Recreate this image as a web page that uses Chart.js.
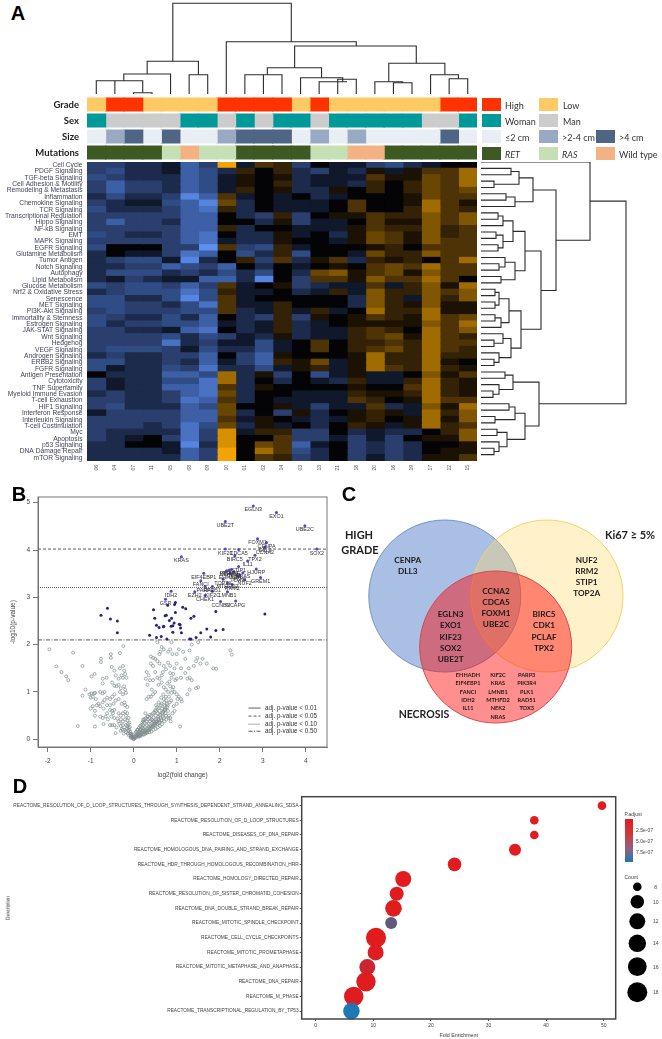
<!DOCTYPE html>
<html>
<head>
<meta charset="utf-8">
<script src="https://cdn.jsdelivr.net/npm/chart.js@4"></script>
<style>
html,body{margin:0;background:#fff;}
#page{position:relative;width:662px;height:1039px;overflow:hidden;background:#fff;}
canvas{position:absolute;}
.t{position:absolute;white-space:nowrap;transform:translate(-50%,-50%);line-height:1;}
.sw{position:absolute;}
</style>
</head>
<body>
<div id="page"></div>
<script>
// ---------- panel A data ----------
let samples = ["06","04","07","11","05","08","09","10","01","02","14","03","13","21","18","20","16","19","17","12","15"];
let pathways = ["Cell Cycle","PDGF Signaling","TGF-beta Signaling","Cell Adhesion & Motility","Remodeling & Metastasis","Inflammation","Chemokine Signaling","TCR Signaling","Transcriptional Regulation","Hippo Signaling","NF-kB Signaling","EMT","MAPK Signaling","EGFR Signaling","Glutamine Metabolism","Tumor Antigen","Notch Signaling","Autophagy","Lipid Metabolism","Glucose Metabolism","Nrf2 & Oxidative Stress","Senescence","MET Signaling","PI3K-Akt Signaling","Immortality & Stemness","Estrogen Signaling","JAK-STAT Signaling","Wnt Signaling","Hedgehog","VEGF Signaling","Androgen Signaling","ERBB2 Signaling","FGFR Signaling","Antigen Presentation","Cytotoxicity","TNF Superfamily","Myeloid Immune Evasion","T-cell Exhaustion","HIF1 Signaling","Interferon Response","Interleukin Signaling","T-cell Costimulation","Myc","Apoptosis","p53 Signaling","DNA Damage Repair","mTOR Signaling"];
let heat = [
[-3,-3,-2,-2,-1,-5,-3,8,-1,3,2,-3,0,-1,-1,-3,-4,-2,-1,0,0],
[-3,-4,-2,-2,-1,-5,-4,-2,2,0,2,-2,-3,-1,-2,1,-1,1,3,3,6],
[-4,-3,-2,-2,-2,-5,-4,-1,1,0,1,-2,-1,-1,-1,3,1,1,4,3,6],
[-3,-5,-3,-3,-2,-5,-4,-1,1,0,2,-2,-1,-1,-2,2,0,2,4,3,6],
[-3,-5,-3,-3,-2,-5,-4,-1,2,0,1,-2,-2,1,0,2,0,2,4,3,4],
[-2,-4,-2,-2,-3,-7,-5,3,-1,0,-1,0,-2,-1,0,0,0,1,4,3,3],
[-3,-2,-1,-1,-4,-5,-7,4,-2,0,-1,-1,-1,0,3,0,0,1,6,3,1],
[-4,-2,-2,-2,-3,-5,-6,2,-2,0,-1,-1,-1,0,3,0,0,2,6,3,2],
[-3,-3,-3,-3,-3,-5,-5,0,-2,-3,2,-3,0,1,1,3,2,2,5,3,5],
[-3,-5,-3,-3,-2,-5,-5,0,0,-2,1,-3,-1,-1,0,3,1,1,5,3,5],
[-3,-3,-3,-3,-3,-5,-5,2,-2,0,0,-1,-1,-1,1,3,2,2,5,2,3],
[-4,-3,-2,-2,-3,-5,-6,0,-2,-2,1,-1,0,-2,1,4,3,1,5,2,3],
[-3,-3,-3,-3,-3,-5,-6,-1,-2,-2,1,0,0,-1,1,4,3,1,5,3,3],
[-4,0,0,0,-3,-3,-8,3,-3,-4,2,-1,0,0,0,1,2,0,3,3,3],
[-2,0,-1,-1,-3,-6,-5,0,-4,-2,2,-4,0,0,-1,4,2,2,5,3,3],
[-2,-3,-4,-4,-1,-7,-2,0,2,-3,3,-2,1,3,-2,2,1,2,0,3,6],
[-2,-2,-3,-3,-5,-4,-3,-5,0,-2,0,-1,0,1,0,3,4,3,6,3,3],
[-2,-4,-4,-4,-2,-3,-2,-4,-2,-4,0,-2,4,5,1,3,4,1,5,3,3],
[-2,-1,-3,-2,-1,-1,-5,-5,-2,-7,0,-3,3,3,1,5,3,3,6,3,0],
[-4,-3,-4,-4,-3,-5,-3,3,-1,0,1,-3,-2,-1,-1,3,-1,2,5,1,6],
[-2,-3,-4,-4,-4,-6,-4,2,-1,-1,0,-2,-1,2,-1,5,2,2,5,3,5],
[-4,-4,-2,-2,-4,-7,-4,3,-1,0,0,0,0,0,-2,5,2,-1,5,2,5],
[-4,-4,-3,-3,-2,-4,-6,3,-1,-1,2,0,0,0,-2,5,2,1,5,1,1],
[-3,-4,-3,-3,-3,-4,-4,3,-2,-1,2,-1,2,-1,0,6,2,2,6,1,1],
[-4,-3,-2,-2,-4,-2,-5,0,-2,-3,2,-3,1,0,1,3,2,1,6,3,4],
[-4,-2,-3,-3,-4,-4,-5,-1,-2,-1,2,-2,-1,0,1,1,1,1,5,3,6],
[-3,-3,-2,-2,-1,-5,-6,0,-2,-1,2,-2,-1,-1,2,3,2,0,6,3,5],
[-3,-3,-3,-3,-4,-2,-4,-3,-1,-2,1,-2,-1,-1,2,3,4,1,6,3,2],
[-3,-3,-3,-3,-6,-2,-3,-1,-1,-4,-1,0,3,0,2,2,3,2,6,3,3],
[-3,-4,-4,-4,-3,-1,-4,-2,-2,-4,-1,0,3,0,2,3,4,2,6,3,2],
[-2,-3,-2,-2,-3,-3,-5,0,-3,-5,1,0,0,0,1,6,2,2,6,2,2],
[-4,-4,-2,-2,-3,-2,-5,-1,-3,-5,2,1,4,-1,1,6,2,2,6,1,0],
[-4,-1,-2,-2,-4,-3,-6,-2,-2,-4,-1,1,2,-1,1,6,3,2,6,2,1],
[0,-2,-2,-2,-5,-5,-4,6,-2,1,-3,0,-4,-1,1,-1,-1,0,5,1,3],
[-3,-1,-2,-2,-4,-4,-6,6,-2,0,-2,0,-1,-2,2,-1,-1,2,6,2,1],
[-3,-1,-2,-2,-5,-5,-6,3,-2,1,0,0,0,0,1,0,0,3,6,2,1],
[-2,-3,-2,-2,-3,-5,-6,4,-2,0,0,-1,-1,-1,2,1,1,2,6,2,1],
[-3,-3,-2,-2,-3,-6,-5,3,-2,0,-1,-1,-1,-1,3,2,0,1,6,3,3],
[-3,-4,-2,-2,-2,-5,-4,4,0,0,1,-1,-3,-1,-1,3,-2,-1,5,1,6],
[-1,-3,-3,-3,-3,-5,-5,4,-2,0,-3,1,-2,0,1,2,1,-1,6,2,5],
[-3,-3,-3,-3,-3,-5,-5,3,-1,1,0,-1,-2,-1,1,2,0,1,6,1,5],
[-3,-3,-3,-2,-3,-6,-4,4,-2,1,-1,0,-2,0,2,1,-1,1,6,2,3],
[-3,-2,-2,-2,-2,-6,-3,7,-1,2,2,-3,-3,0,-2,-1,-2,-2,0,2,5],
[-3,-2,-1,0,-3,-6,-3,7,0,0,3,-3,-3,-1,-3,-1,-3,0,1,1,5],
[-2,-2,0,0,-1,-7,-2,7,0,4,3,-5,-1,0,-3,-2,-3,-2,0,0,1],
[-2,-2,-2,-2,-1,-5,-3,8,0,6,3,-4,-2,0,-3,-2,-3,-2,0,1,1],
[-2,-2,-2,-2,-2,-5,-3,8,0,3,2,-3,-2,0,-3,-1,-3,-2,1,1,3]
];
let annoRows = ["Grade","Sex","Size","Mutations"];
let grade = "LHHLLLLHHHHLHLLLLLLHH".split("");
let sex = "WMMMMWWMWMWWMWWWWWMMW".split("");
let size = "sMBsBssMBBBsMsMssssBs".split("");
let mutations = "RRRRAWAARRRRAAWWRRRRR".split("");
// dendrograms: [from, to, height, height of from child, height of to child]
let colTree = [
[2,3,1.3,0,0],[0,2.5,13.3,0,1.3],[1,1,13.3,0,0],[1.48,4,20,13.3,0],[5,6,19.3,0,0],[2.74,5.5,32.7,20,19.3],
[4.12,10.5,90.7,32.7,52.3],[7,14,52.3,0,48],[10.68,17.23,48,26.3,30.7],[9.21,12.13,26.3,19.3,16.3],
[8,10,19.3,0,0],[9,9,19.3,0,0],[11,13.27,16.3,0,12.3],[12,13.5,12.3,0,12.3],[13,14,14.7,0,0],
[15.75,18.77,30.7,12.3,19.3],[15,16.5,12.3,0,11.3],[16,17,11.3,0,0],[18,19.5,19.3,0,15.3],[19,20,15.3,0,0]
];
let rowTree = [
[1,2,30,0,0],[3,4,13,0,0],[1.5,3.5,38,30,13],[5,6,25,0,0],[5.5,7,34,25,0],[2.5,6.25,52,38,34],
[8,9,17,0,0],[8.5,10,22,17,0],[11,12,15,0,0],[13,14,17,0,0],[11.5,13.5,22,15,17],[9.25,12.5,32,22,22],
[16,17,18,0,0],[15,16.5,24,0,18],[18,19,20,0,0],[15.75,18.5,34,24,20],[10.9,17.1,44,32,34],
[20,21,14,0,0],[22,23,14,0,0],[20.5,22.5,18,14,14],[24,25,14,0,0],[24.5,26,20,14,0],[21.5,25.25,28,18,20],
[28,29,13,0,0],[27,28.5,22,0,13],[31,32,13,0,0],[30,31.5,18,0,13],[27.75,30.75,30,22,18],[23.4,29.25,40,28,30],
[14,26.3,60,44,40],[4.4,20.2,75,52,60],[0,12.3,109,0,75],
[36,37,12,0,0],[35,36.5,18,0,12],[33,34,24,0,0],[33.5,35.75,32,24,18],[38,39,28,0,0],[40,41,14,0,0],[38.5,40.5,34,28,14],
[42,43,16,0,0],[45,46,13,0,0],[44,45.5,18,0,13],[42.5,44.75,26,16,18],[39.5,43.6,44,34,26],[34.6,41.5,58,32,44],
[6.15,38,145,109,58]
];

// ---------- panel B data ----------
let geneNames = ["EGLN3","EXO1","UBE2T","UBE2C","FOXM1","CENPA","DLL3","CCNA2","SOX2","KIF23","CDCA5","TPX2","BIRC5","KRAS","IL11","STIP1","HJURP","EIF4EBP1","GREM1","FANCI","TOP2A","NUF2","IDH2","GSR","EZH2","CHEK1","CCNB2","NCAPG","KIF2C","LMNB1","PARP3","RAD51","RRM2","MTHFD2","PLK1","TOX3","NEK2","PIK3R4","PCLAF","CDK1","NRAS","EHHADH"];
let geneFc = [2.78,3.32,2.13,3.98,2.88,3.09,3.06,3.05,4.26,2.13,2.44,2.82,2.35,1.11,2.65,2.44,2.85,1.63,2.95,1.56,2.08,2.58,0.87,0.74,1.42,1.66,2.02,2.37,1.83,2.18,1.66,1.83,2.29,2.18,2.47,2.41,2.16,2.22,2.27,2.33,2.54,2.24];
let geneP = [4.93,4.79,4.60,4.51,4.24,4.16,4.07,4.04,4.02,4.02,4.01,3.89,3.88,3.86,3.77,3.65,3.60,3.51,3.42,3.35,3.38,3.37,3.13,2.96,3.12,3.04,2.91,2.92,3.13,3.12,3.23,3.23,3.27,3.31,3.47,3.45,3.56,3.58,3.59,3.54,3.52,3.51];
let sigFc = [-0.76,-0.61,-0.54,-0.38,-0.38,0.37,0.46,0.49,0.53,0.53,0.59,0.64,0.69,0.70,0.73,0.76,0.79,0.83,0.88,0.87,0.91,0.91,0.95,0.97,0.97,0.94,1.06,1.08,1.09,1.11,1.14,1.21,1.33,1.40,0.77,1.30,1.33,1.45,1.56,1.70,1.79,1.91,2.08,3.05,1.91];
let sigP = [2.62,2.77,2.54,2.50,2.25,2.20,2.74,2.56,2.41,2.15,2.36,2.17,2.38,2.39,2.61,2.62,2.83,2.51,2.56,2.39,2.40,2.26,2.85,2.89,2.68,2.46,2.43,2.42,2.35,2.25,2.79,2.76,2.56,2.60,2.12,2.12,2.12,2.15,2.25,2.33,2.16,2.30,2.32,2.65,2.70];
let nsFc = [-1.96,-1.41,-1.80,-1.68,-1.57,-1.52,-1.19,-0.76,-0.76,-0.53,-0.32,-0.24,-0.91,-0.98,-0.53,-1.12,-1.19,-1.03,-0.98,-0.95,-0.92,-0.90,-1.00,-0.88,-0.82,-0.86,-0.95,-0.90,-1.00,-0.90,-0.90,-1.30,-0.72,-0.72,-0.78,-0.72,-0.68,-0.63,-0.51,-0.45,-0.32,-0.25,-0.22,-0.20,-0.17,-0.25,-0.28,-0.35,-0.42,-0.50,-0.45,-0.40,-0.35,-0.30,-0.22,-0.20,-0.18,-0.25,-0.32,-0.45,-0.50,-0.55,-0.62,-0.68,-0.72,-0.78,-0.70,-0.62,-0.55,-0.47,-0.42,-0.35,-0.28,-0.22,-0.20,-0.15,-0.45,-0.50,-0.55,-0.48,-0.52,-0.45,-0.62,-0.65,-0.60,-0.72,-0.78,-0.35,-0.30,-0.25,-0.20,-0.18,-0.15,-0.30,-0.35,-0.25,-0.20,-0.15,-0.12,-0.10,-0.25,-0.30,-0.18,-0.15,-0.12,-0.10,-0.20,-0.25,-0.30,-0.18,-0.14,-0.10,-0.07,-0.05,-0.03,-0.12,-0.08,-0.06,-0.04,-0.02,0,0,0.01,-0.40,-0.45,-0.50,-0.55,-0.70,-0.42,-0.38,-0.33,-0.27,-0.23,-0.16,-0.13,-0.09,-0.07,-0.04,-0.02,-0.11,-0.06,
0.02,0.03,0.04,0.05,0.06,0.07,0.08,0.09,0.10,0.12,0.13,0.14,0.15,0.16,0.17,0.18,0.20,0.21,0.22,0.23,0.25,0.26,0.27,0.28,0.30,0.31,0.32,0.33,0.35,0.36,0.37,0.38,0.40,0.41,0.42,0.43,0.45,0.46,0.47,0.48,0.50,0.51,0.52,0.53,0.55,0.56,0.57,0.58,0.60,0.61,0.62,0.65,0.66,0.67,0.68,0.70,0.71,0.72,0.73,0.74,0.75,0.76,0.77,0.78,0.80,0.82,0.85,0.90,0.95,1.00,1.02,1.08,0.35,0.30,0.40,0.45,0.50,0.42,0.32,0.38,0.45,0.30,0.35,0.28,0.40,0.45,0.50,0.55,0.60,0.65,0.58,0.70,0.75,0.80,0.85,0.90,0.92,0.95,1.00,0.88,0.82,1.05,1.10,1.12,1.25,1.30,1.45,1.50,1.30,1.35,1.25,1.10,1.00,0.97,0.92,0.85,0.88,0.95,1.00,1.10,1.20,1.28,1.40,1.45,1.48,1.70,1.85,1.92,2.25,2.28,0.40,0.45,0.50,0.55,0.60,0.70,0.80,0.85,0.75,0.68,0.65,0.60,0.62,0.70,0.80,0.85,0.90,1.00,1.05,1.15,1.20,1.30,1.35,1.50,1.60,1.55,0.55,0.65,0.88,0.10,0.15,0.20,0.25,0.05,0.08,0.12,0.18,0.22,0.28,0.33,0.38,0.43,0.48,0.52,0.58,0.63,0.69,0.74,0.79,0.84,0.87,0.93,0.24,0.29,0.34,0.39,0.44,0.49,0.54,0.59,0.64,0.16,0.11,0.07,0.19,
0.12,0.17,0.22,0.27,0.31,0.36,0.41,0.46,0.51,0.56,0.61,0.66,0.71,0.76,0.81,0.86,0.30,0.35,0.40,0.45,0.50,0.55,0.60,0.65,0.70,0.75,0.20,0.25,0.15,0.37,0.42,0.47,0.52,0.57,0.62,0.67,0.72,0.32,0.27,0.22,0.52,0.58,0.64,0.69,0.78,0.83];
let nsP = [1.90,1.83,1.54,1.42,1.33,1.25,1.55,1.70,1.63,1.80,1.82,1.97,1.38,1.33,1.72,1.05,0.92,0.95,0.97,0.90,0.97,0.98,0.88,0.85,0.75,0.72,0.70,0.60,0.65,0.50,0.27,0.28,1.28,1.18,1.00,0.97,1.00,1.30,1.53,1.45,1.50,1.55,1.45,1.38,1.30,1.30,1.35,1.28,1.35,1.20,1.13,1.12,1.15,1.08,1.12,1.05,0.98,0.95,1.00,0.95,0.90,0.85,0.88,0.83,0.78,0.70,0.65,0.72,0.72,0.75,0.82,0.85,0.75,0.78,0.72,0.68,0.62,0.60,0.62,0.55,0.48,0.45,0.55,0.48,0.42,0.45,0.48,0.55,0.50,0.55,0.58,0.50,0.55,0.42,0.38,0.38,0.42,0.40,0.45,0.35,0.30,0.28,0.30,0.28,0.25,0.20,0.20,0.20,0.18,0.15,0.12,0.12,0.10,0.06,0.03,0.18,0.16,0.12,0.09,0.05,0.02,0,0.01,0.25,0.30,0.30,0.30,0.32,0.13,0.44,0.33,0.22,0.12,0.22,0.33,0.26,0.05,0.05,0.10,0.08,0.03,
0.04,0.06,0.03,0.08,0.05,0.10,0.07,0.12,0.09,0.14,0.10,0.17,0.20,0.13,0.22,0.16,0.25,0.18,0.30,0.22,0.35,0.26,0.20,0.15,0.38,0.30,0.22,0.42,0.32,0.26,0.45,0.38,0.28,0.50,0.42,0.35,0.55,0.46,0.38,0.30,0.62,0.50,0.42,0.35,0.68,0.55,0.47,0.40,0.60,0.52,0.45,0.75,0.65,0.56,0.48,0.85,0.78,0.70,0.62,0.55,0.90,0.82,0.75,0.68,0.60,0.50,0.45,0.55,0.60,0.75,0.85,0.27,0.90,0.85,0.90,0.95,1.00,1.05,1.15,1.25,1.25,1.42,1.35,1.28,1.60,1.55,1.42,1.30,1.28,1.20,1.15,1.10,1.05,1.00,1.12,1.05,1.10,1.00,0.95,0.98,0.90,0.90,0.85,0.80,0.95,1.05,1.08,1.10,1.30,1.25,1.28,1.30,1.28,1.25,1.38,1.40,1.30,1.50,1.60,1.50,1.40,1.50,1.55,1.65,1.72,1.60,1.50,1.49,1.88,1.79,1.75,1.72,1.70,1.65,1.60,1.55,1.62,1.55,1.48,1.42,1.35,1.80,1.85,1.90,1.85,1.90,1.80,1.80,1.90,1.85,1.70,1.88,2.00,2.05,1.70,1.60,2.05,1.95,2.05,0.20,0.28,0.35,0.42,0.15,0.20,0.24,0.30,0.38,0.44,0.48,0.52,0.40,0.56,0.60,0.66,0.72,0.58,0.66,0.72,0.78,0.82,0.70,0.10,0.14,0.18,0.23,0.28,0.33,0.37,0.34,0.40,0.07,0.05,0.16,0.11,
0.06,0.09,0.10,0.12,0.14,0.15,0.16,0.20,0.22,0.25,0.28,0.32,0.38,0.42,0.45,0.38,0.18,0.20,0.24,0.28,0.30,0.33,0.37,0.40,0.45,0.50,0.14,0.17,0.08,0.22,0.26,0.33,0.38,0.43,0.50,0.55,0.62,0.48,0.55,0.42,0.72,0.78,0.88,0.95,1.18,1.22];
let cutoffs = [4.02,3.21,2.10];
let cutoffNames = ["adj. p-value < 0.01","adj. p-value < 0.05","adj. p-value < 0.10","adj. p-value < 0.50"];

// ---------- panel C data ----------
let vennCentres = {blue:[109.8,106],yellow:[212,106],red:[160.7,157]};
let vennRadius = 76;
let necrosisCols = [["EHHADH","EIF4EBP1","FANCI","IDH2","IL11"],["KIF2C","KRAS","LMNB1","MTHFD2","NEK2","NRAS"],["PARP3","PIK3R4","PLK1","RAD51","TOX3"]];

// ---------- panel D data ----------
let reactome = ["REACTOME_RESOLUTION_OF_D_LOOP_STRUCTURES_THROUGH_SYNTHESIS_DEPENDENT_STRAND_ANNEALING_SDSA","REACTOME_RESOLUTION_OF_D_LOOP_STRUCTURES","REACTOME_DISEASES_OF_DNA_REPAIR","REACTOME_HOMOLOGOUS_DNA_PAIRING_AND_STRAND_EXCHANGE","REACTOME_HDR_THROUGH_HOMOLOGOUS_RECOMBINATION_HRR","REACTOME_HOMOLOGY_DIRECTED_REPAIR","REACTOME_RESOLUTION_OF_SISTER_CHROMATID_COHESION","REACTOME_DNA_DOUBLE_STRAND_BREAK_REPAIR","REACTOME_MITOTIC_SPINDLE_CHECKPOINT","REACTOME_CELL_CYCLE_CHECKPOINTS","REACTOME_MITOTIC_PROMETAPHASE","REACTOME_MITOTIC_METAPHASE_AND_ANAPHASE","REACTOME_DNA_REPAIR","REACTOME_M_PHASE","REACTOME_TRANSCRIPTIONAL_REGULATION_BY_TP53"];
let enrichment = [49.7,37.95,37.95,34.6,24.1,15.2,14.06,13.5,13.1,10.47,10.4,8.96,8.73,6.6,6.2];
let counts = [8,8,8,9,10,12,11,13,9,18,12,12,17,17,13];
let padj = [0.1e-7,0.1e-7,0.1e-7,0.1e-7,0.1e-7,0.1e-7,0.1e-7,0.2e-7,6.2e-7,0.1e-7,0.3e-7,1.2e-7,0.3e-7,0.3e-7,9.5e-7];
let keyCounts = [8,10,12,14,16,18];

// ---------- helpers ----------
Chart.defaults.animation = false;
Chart.defaults.responsive = false;
Chart.defaults.layout.autoPadding = false;
Chart.defaults.plugins.legend.display = false;
Chart.defaults.plugins.tooltip.enabled = false;
Chart.defaults.font.family = "'Liberation Sans',Arial,sans-serif";
let page = document.getElementById("page");
let calibri = "Lato,'Open Sans',sans-serif";

function mk(x,y,w,h){
  let c = document.createElement("canvas");
  c.width = w; c.height = h;
  c.style.left = x+"px"; c.style.top = y+"px";
  page.appendChild(c);
  return c.getContext("2d");
}
function txt(s,x,y,size,o){
  o = o||{};
  let d = document.createElement("div");
  d.className = "t";
  d.textContent = s;
  d.style.left = x+"px"; d.style.top = y+"px";
  d.style.fontSize = size+"px";
  d.style.fontFamily = o.font||calibri;
  d.style.fontWeight = o.bold?"bold":"normal";
  d.style.fontStyle = o.italic?"italic":"normal";
  d.style.color = o.color||"#222";
  if(o.left) d.style.transform = "translate(0,-50%)";
  if(o.rot) d.style.transform = "translate(-50%,-50%) rotate(-90deg)";
  page.appendChild(d);
}
function swatch(x,y,w,h,bg){
  let d = document.createElement("div");
  d.className = "sw";
  d.style.cssText = `left:${x}px;top:${y}px;width:${w}px;height:${h}px;background:${bg}`;
  page.appendChild(d);
}
function hiddenAxis(min,max,extra){
  return Object.assign({type:"linear",display:false,min:min,max:max},extra||{});
}
function fixedTicks(vals){
  return s => { s.ticks = vals.map(v=>({value:v})); };
}
function tickMarks(len,color){
  return {display:true,drawOnChartArea:false,drawTicks:true,tickLength:len,tickColor:color,color:color};
}
// fixed axis size, and no extra room for tick labels at the axis ends
function fitAxis(prop,size){
  return s => {
    s[prop] = size;
    s.paddingTop = s.paddingBottom = s.paddingLeft = s.paddingRight = 0;
  };
}
function elbow(x1,x2,h,h1,h2,horizontal){
  // one dendrogram merge, as a 4 point path
  let pts = [[x1,h1],[x1,h],[x2,h],[x2,h2]];
  return pts.map(p => horizontal ? {x:p[1],y:p[0]} : {x:p[0],y:p[1]});
}
function dendro(ctx,merges,xAxis,yAxis,horizontal){
  new Chart(ctx,{
    type:"scatter",
    data:{datasets:merges.map(m=>({
      data:elbow(m[0],m[1],m[2],m[3],m[4],horizontal),
      showLine:true,borderColor:"#2b2b2b",borderWidth:1.1,pointRadius:0,tension:0,clip:false
    }))},
    options:{layout:{padding:0},scales:{x:xAxis,y:yAxis}}
  });
}
let frame = (color,width) => ({
  id:"frame",
  afterDatasetsDraw(ch){
    let a = ch.chartArea, g = ch.ctx;
    g.save(); g.strokeStyle = color; g.lineWidth = width;
    g.strokeRect(a.left,a.top,a.right-a.left,a.bottom-a.top);
    g.restore();
  }
});
let backdrop = {
  id:"backdrop",
  beforeDatasetsDraw(ch){
    let a = ch.chartArea;
    ch.ctx.fillStyle = "#10141f";
    ch.ctx.fillRect(a.left,a.top,a.right-a.left,a.bottom-a.top);
  }
};

// ---------- panel A ----------
txt("A",18,13,20,{bold:true,font:"'Liberation Sans'",color:"#000"});
dendro(mk(87,0,390,94),colTree,hiddenAxis(-0.5,20.5),hiddenAxis(0,94));
dendro(mk(481,162,181,299),rowTree,hiddenAxis(0,181),hiddenAxis(0,47,{reverse:true}),true);

let annoColors = {L:"#ffc966",H:"#ff3300",W:"#009999",M:"#cccccc",s:"#e9eef4",B:"#4f6584",R:"#3d5a24",A:"#c5e0b4"};
let sizeColors = Object.assign({},annoColors,{M:"#98a9c4"});
let mutColors = Object.assign({},annoColors,{W:"#f4b183"});
new Chart(mk(0,92,477,70),{
  type:"bar",
  data:{
    labels:annoRows,
    datasets:samples.map((s,i)=>({
      label:s,
      data:annoRows.map(()=>1),
      backgroundColor:[annoColors[grade[i]],annoColors[sex[i]],sizeColors[size[i]],mutColors[mutations[i]]],
      barPercentage:0.81,categoryPercentage:1,borderWidth:0,inflateAmount:0.6
    }))
  },
  options:{
    indexAxis:"y",
    layout:{padding:{top:4.5,bottom:1.5}},
    scales:{
      x:hiddenAxis(0,21,{stacked:true}),
      y:{stacked:true,grid:{display:false,drawTicks:false},border:{display:false},
         ticks:{autoSkip:false,font:{family:calibri,weight:"bold",size:9.5},color:"#222",padding:8},
         afterFit:fitAxis("width",87)}
    }
  }
});

let heatColors = ["#5b90f0","#5585e0","#4a72c2","#3d5fa5","#304c85","#2a3f6e","#1c2b4c","#10182c","#040406","#1c1203","#332205","#4d3305","#6a4603","#805603","#a06c02","#d89000","#f5a300"];
new Chart(mk(0,155,477,330),{
  type:"bar",
  plugins:[backdrop],
  data:{
    labels:pathways,
    datasets:samples.map((s,i)=>({
      label:s,
      data:pathways.map(()=>1),
      backgroundColor:heat.map(r=>heatColors[r[i]+8]),
      barPercentage:1,categoryPercentage:1,borderWidth:0,inflateAmount:0.6
    }))
  },
  options:{
    indexAxis:"y",
    layout:{padding:{top:7}},
    scales:{
      x:hiddenAxis(0,21,{stacked:true}),
      x2:{type:"category",labels:samples,position:"bottom",offset:true,grid:{display:false,drawTicks:false},border:{display:false},
          ticks:{autoSkip:false,minRotation:90,maxRotation:90,font:{size:5},color:"#555",padding:4},
          afterFit:fitAxis("height",24)},
      y:{stacked:true,grid:{display:false,drawTicks:false},border:{display:false},
         ticks:{autoSkip:false,font:{size:6.7},color:"#3f3f58",padding:4.5},
         afterFit:fitAxis("width",87)}
    }
  }
});
let legendRows = [
  {y:98,h:12.5,items:[[482,"#ff3300","High",505,{}],[539,"#ffc966","Low",563,{}]]},
  {y:114,h:13,items:[[482,"#009999","Woman",505,{}],[539,"#cccccc","Man",563,{}]]},
  {y:130,h:13,items:[[482,"#e9eef4","≤2 cm",505,{}],[539,"#98a9c4",">2-4 cm",562,{}],[596,"#4f6584",">4 cm",619,{}]]},
  {y:147,h:12.5,items:[[482,"#3d5a24","RET",505,{italic:true}],[539,"#c5e0b4","RAS",562,{italic:true}],[596,"#f4b183","Wild type",619,{}]]}
];
legendRows.forEach(r=>r.items.forEach(it=>{
  swatch(it[0],r.y,19,r.h,it[1]);
  txt(it[2],it[3],r.y+r.h/2+0.5,9,Object.assign({left:true,color:"#333"},it[4]));
}));

// ---------- panel B ----------
txt("B",19,494,20,{bold:true,font:"'Liberation Sans'",color:"#000"});
let geneLabels = {
  id:"geneLabels",
  afterDatasetsDraw(ch){
    let g = ch.ctx, m = ch.getDatasetMeta(0);
    g.save();
    g.font = "5.4px 'Liberation Sans'";
    g.fillStyle = "#333";
    g.textAlign = "center"; g.textBaseline = "middle";
    m.data.forEach((p,i)=> g.fillText(geneNames[i],p.x,p.y+4));
    g.restore();
  }
};
let xr = [-2.225,4.495];
function hline(y,dash){
  return {data:[{x:xr[0],y:y},{x:xr[1],y:y}],showLine:true,borderColor:"#333",borderWidth:0.8,borderDash:dash,pointRadius:0};
}
let dashes = [[],[3,2],[1,1],[4,1.5,1,1.5]];
function keyLine(y,dash){
  return {data:[{x:2.67,y:y},{x:2.95,y:y}],showLine:true,borderColor:"#333",borderWidth:0.8,borderDash:dash,pointRadius:0};
}
new Chart(mk(0,490,340,290),{
  type:"scatter",
  plugins:[frame("#777",1),geneLabels],
  data:{datasets:[
    {data:geneFc.map((x,i)=>({x:x,y:geneP[i]})),pointRadius:1.5,pointBackgroundColor:"#5540d8",pointBorderWidth:0},
    {data:sigFc.map((x,i)=>({x:x,y:sigP[i]})),pointRadius:1.5,pointBackgroundColor:"#2c2180",pointBorderWidth:0},
    {data:nsFc.map((x,i)=>({x:x,y:nsP[i]})),pointRadius:1.5,pointBackgroundColor:"rgba(0,0,0,0)",pointBorderColor:"#7f8c8c",pointBorderWidth:0.7},
    hline(cutoffs[0],dashes[1]),hline(cutoffs[1],dashes[2]),hline(cutoffs[2],dashes[3]),
    keyLine(0.66,dashes[0]),keyLine(0.49,dashes[1]),keyLine(0.32,dashes[2]),keyLine(0.17,dashes[3])
  ]},
  options:{
    layout:{padding:{top:7,right:13}},
    scales:{
      x:{type:"linear",min:xr[0],max:xr[1],grid:tickMarks(5,"#777"),border:{color:"#777"},afterBuildTicks:fixedTicks([-2,-1,0,1,2,3,4]),
         ticks:{font:{size:6.5},color:"#444",padding:5,maxRotation:0},
         title:{display:true,text:"log2(fold change)",font:{size:6.5},color:"#444",padding:{top:0,bottom:1}},
         afterFit:fitAxis("height",33)},
      y:{type:"linear",min:-0.163,max:5.12,grid:tickMarks(5,"#777"),border:{color:"#777"},afterBuildTicks:fixedTicks([0,1,2,3,4,5]),
         ticks:{font:{size:6.5},color:"#444",padding:3},
         afterFit:fitAxis("width",38)}
    }
  }
});
txt("-log10(p-value)",13,622,6.5,{rot:true,font:"'Liberation Sans'",color:"#444"});
cutoffNames.forEach((s,i)=> txt(s,265,[708.3,716,724,731.3][i],6.3,{left:true,font:"'Liberation Sans'",color:"#333"}));

// ---------- panel C ----------
txt("C",349,494,20,{bold:true,font:"'Liberation Sans'",color:"#000"});
new Chart(mk(335,490,327,270),{
  type:"bubble",
  data:{datasets:[
    {data:[{x:vennCentres.red[0],y:vennCentres.red[1],r:vennRadius}],backgroundColor:"rgba(255,0,0,0.44)",borderColor:"#d4494e",borderWidth:1,clip:false},
    {data:[{x:vennCentres.yellow[0],y:vennCentres.yellow[1],r:vennRadius}],backgroundColor:"rgba(255,217,102,0.35)",borderColor:"#f6d264",borderWidth:1,clip:false},
    {data:[{x:vennCentres.blue[0],y:vennCentres.blue[1],r:vennRadius}],backgroundColor:"#a9bfe3",borderColor:"#7593c9",borderWidth:1,clip:false}
  ]},
  options:{layout:{padding:0},scales:{x:hiddenAxis(0,327),y:hiddenAxis(0,270,{reverse:true})}}
});
txt("HIGH",359,534,11,{bold:true});
txt("GRADE",360,549,11,{bold:true});
txt("Ki67 ≥ 5%",630,534,11,{bold:true});
txt("NECROSIS",424,713.7,10.5,{bold:true});
function geneBlock(list,x,y0,step,size){
  list.forEach((s,i)=> txt(s,x,y0+i*step,size,{bold:true,color:"#1a1a1a"}));
}
geneBlock(["CENPA","DLL3"],407.7,560.3,11,8.2);
geneBlock(["NUF2","RRM2","STIP1","TOP2A"],586.7,560.3,11,8.2);
geneBlock(["CCNA2","CDCA5","FOXM1","UBE2C"],496,590.7,11,8.2);
geneBlock(["EGLN3","EXO1","KIF23","SOX2","UBE2T"],450.7,614.3,11.1,8.2);
geneBlock(["BIRC5","CDK1","PCLAF","TPX2"],544,614.3,11.1,8.2);
necrosisCols.forEach((c,i)=> geneBlock(c,[468,498,526.7][i],675,8.33,5.6));

// ---------- panel D ----------
txt("D",20,786,20,{bold:true,font:"'Liberation Sans'",color:"#000"});
let radiusOf = {8:4.3,9:6,10:6.8,11:7,12:8,13:8.3,14:8.7,15:9,16:9.4,17:9.7,18:10};
function padjColor(p){
  let t = Math.min(p/9.5e-7,1);
  let mix = (a,b)=>Math.round(a+(b-a)*t);
  return `rgb(${mix(228,31)},${mix(26,120)},${mix(28,180)})`;
}
new Chart(mk(0,790,662,249),{
  type:"bubble",
  plugins:[frame("#444",1.5)],
  data:{datasets:[{
    data:enrichment.map((x,i)=>({x:x,y:i,r:radiusOf[counts[i]]})),
    backgroundColor:padj.map(padjColor),borderWidth:0,clip:false
  }]},
  options:{
    layout:{padding:{top:6.7,right:46.3}},
    scales:{
      x:{type:"linear",min:-2.43,max:52.08,grid:tickMarks(2,"#555"),border:{display:false},afterBuildTicks:fixedTicks([0,10,20,30,40,50]),
         ticks:{font:{size:5},color:"#444",padding:2,maxRotation:0},
         title:{display:true,text:"Fold Enrichment",font:{size:5.3},color:"#333",padding:{top:0,bottom:0}},
         afterFit:fitAxis("height",20)},
      y:{type:"linear",reverse:true,min:-0.61,max:14.54,grid:tickMarks(2,"#555"),border:{display:false},afterBuildTicks:fixedTicks(reactome.map((_,i)=>i)),
         ticks:{font:{size:4.8},color:"#444",padding:1,autoSkip:false,callback:v=>reactome[v]},
         afterFit:fitAxis("width",301.7)}
    }
  }
});
txt("Description",9,908,4.8,{rot:true,font:"'Liberation Sans'",color:"#333"});
txt("P.adjust",624.5,813.7,5,{left:true,font:"'Liberation Sans'",color:"#444"});
swatch(624.7,818.7,8.6,43,"linear-gradient(#e41a1c 0%,#d0383a 35%,#8c6480 70%,#1f78b4 100%)");
[["2.5e-07",829.7],["5.0e-07",841],["7.5e-07",852]].forEach(t=> txt(t[0],636,t[1],5,{left:true,font:"'Liberation Sans'",color:"#444"}));
txt("Count",624.5,876.7,5,{left:true,font:"'Liberation Sans'",color:"#444"});
let keyY = [886.7,901.7,921.3,943.3,966.7,992.3];
new Chart(mk(620,870,35,140),{
  type:"bubble",
  data:{datasets:[{
    data:keyCounts.map((c,i)=>({x:17.3,y:keyY[i]-870,r:radiusOf[c]})),
    backgroundColor:"#000",borderWidth:0,clip:false
  }]},
  options:{layout:{padding:0},scales:{x:hiddenAxis(0,35),y:hiddenAxis(0,140,{reverse:true})}}
});
keyCounts.forEach((c,i)=> txt(String(c),655.7,keyY[i],5,{font:"'Liberation Sans'",color:"#444"}));
</script>
</body>
</html>
